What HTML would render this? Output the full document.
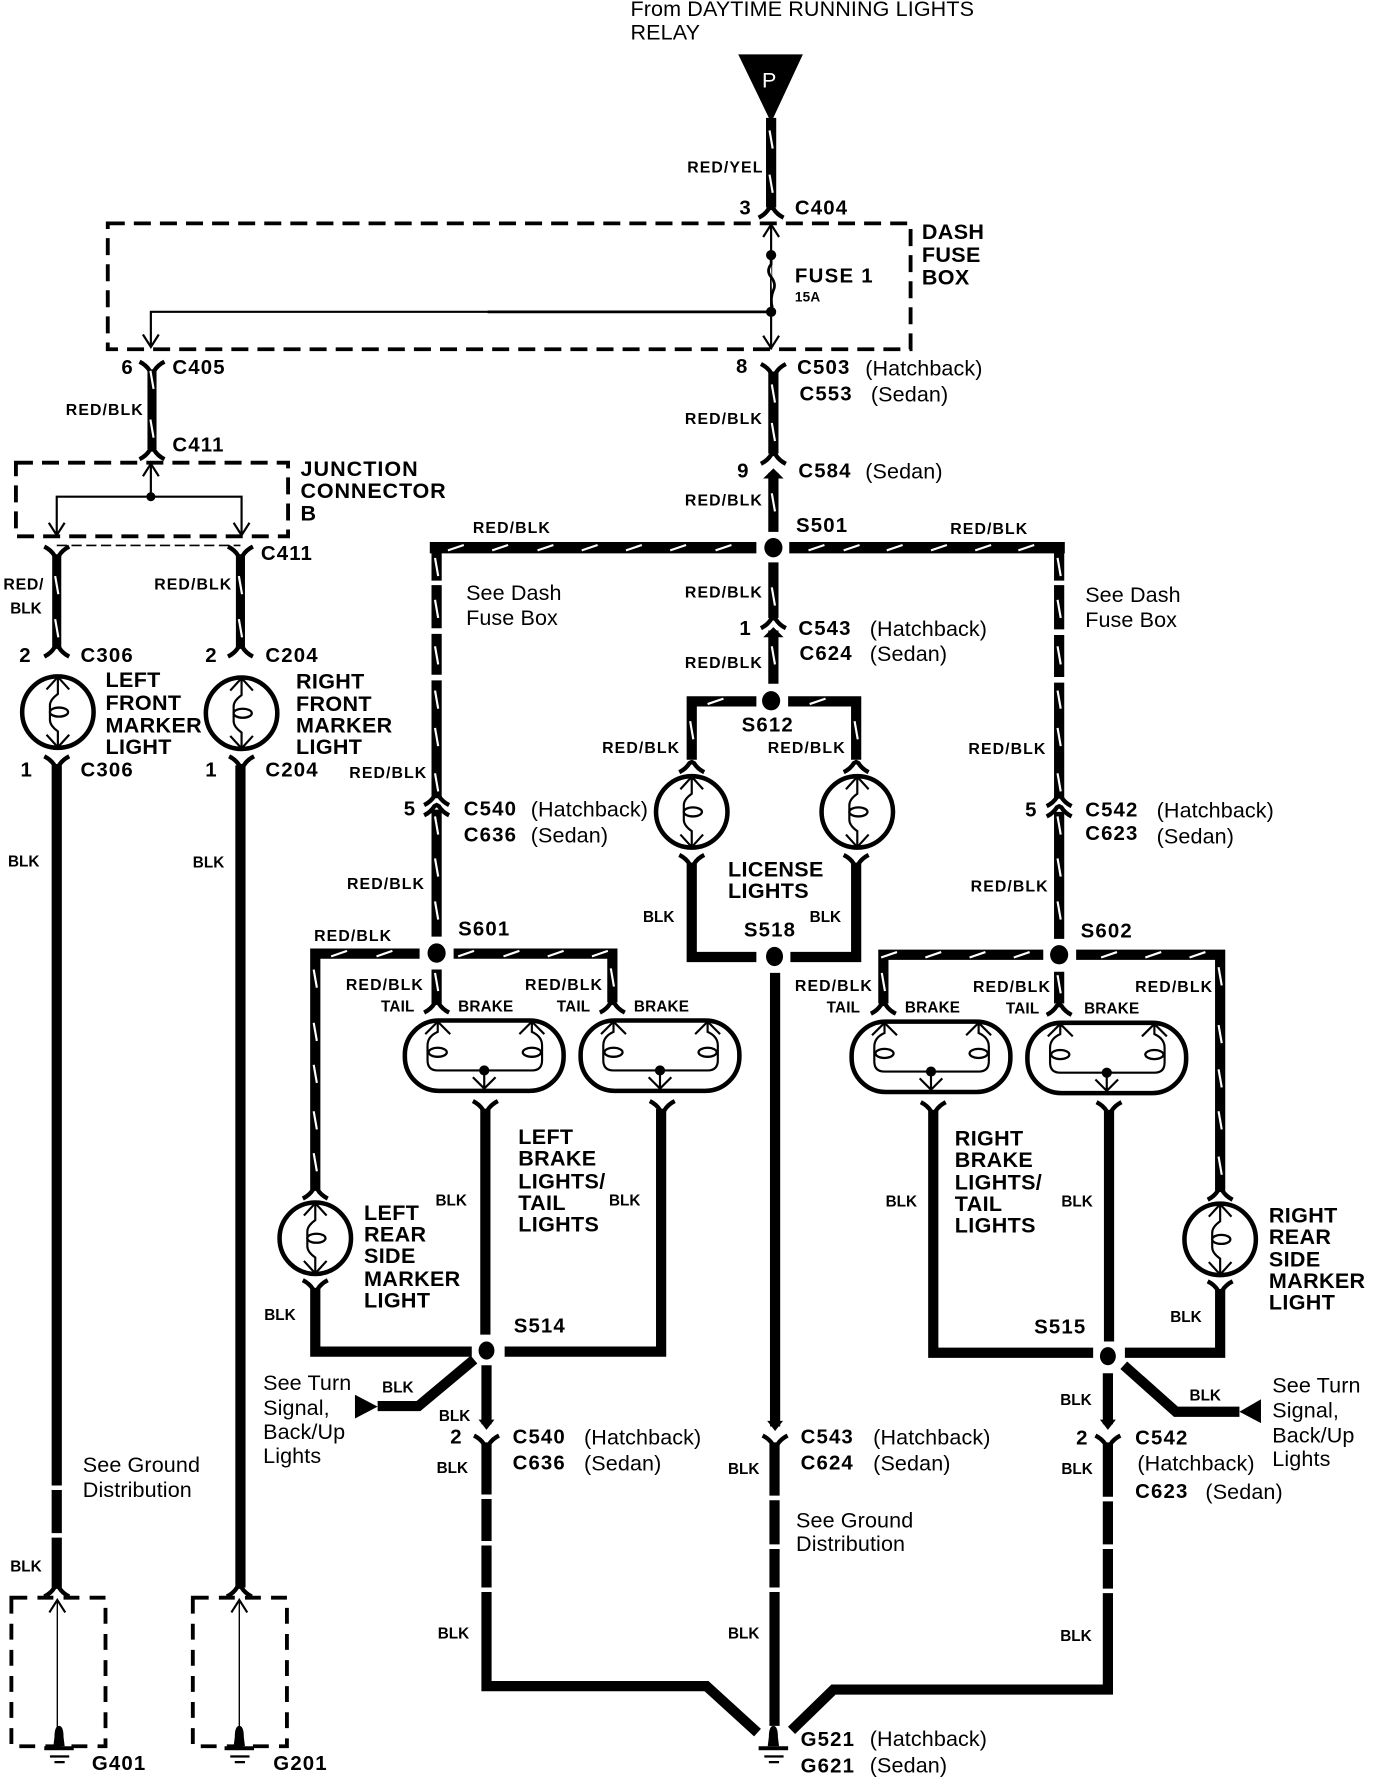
<!DOCTYPE html>
<html><head><meta charset="utf-8"><title>Wiring diagram</title>
<style>
html,body{margin:0;padding:0;background:#fff}
svg{display:block}
text{font-family:"Liberation Sans",sans-serif;fill:#000}
.w{font-weight:bold;font-size:14px;letter-spacing:.95px}
.k{font-weight:bold;font-size:13.5px}
.c{font-weight:bold;font-size:18px;letter-spacing:1px}
.t{font-weight:bold;font-size:19px;letter-spacing:.3px}
.r{font-size:19px;letter-spacing:.1px}
.s{font-weight:bold;font-size:13.5px;letter-spacing:.15px}
.wire{fill:none;stroke:#000;stroke-width:9}
.thin{fill:none;stroke:#000;stroke-width:1.9}
.d{fill:none;stroke:#fff;stroke-width:1.9}
.box{fill:none;stroke:#000;stroke-width:3.4;stroke-dasharray:15 8}
</style></head><body>
<svg xmlns="http://www.w3.org/2000/svg" width="1376" height="1778" viewBox="0 0 1213.4 1568">
<defs>
<path id="fd" d="M-11,8 Q-5,5 -2,0 L0,-1 L2,0 Q5,5 11,8" fill="none" stroke="#000" stroke-width="3.8"/>
<path id="fu" d="M-11,-8 Q-5,-5 -2,0 L0,1 L2,0 Q5,-5 11,-8" fill="none" stroke="#000" stroke-width="3.8"/>
<path id="au" d="M-7,11 L0,0 L7,11" fill="none" stroke="#000" stroke-width="1.9"/>
<path id="ad" d="M-7,-11 L0,0 L7,-11" fill="none" stroke="#000" stroke-width="1.9"/>
<polygon id="sa" points="-7,-6 7,-6 0,3"/>
<polygon id="su" points="-9,6 9,6 4,1 0,-3 -4,1"/>
<path id="dv" d="M-1.4,-8 L1.4,8" class="d"/>
<path id="dh" d="M-7,2.4 L7,-2.4" class="d"/>
<g id="b">
<ellipse cx="0" cy="0" rx="31.5" ry="31.5" fill="#fff" stroke="#000" stroke-width="4"/>
<path d="M0,-31 L0,-16 Q-7,-11 -7,-6 L-7,7 Q-7,12 0,17 L0,31" class="thin"/>
<ellipse cx="1" cy="0" rx="8" ry="4" fill="#fff" stroke="#000" stroke-width="2"/>
<path d="M-10,-20 L0,-31 L10,-20 M-10,20 L0,31 L10,20" class="thin"/>
</g>
<g id="v">
<rect x="0" y="0" width="140" height="62" rx="30" ry="30" fill="#fff" stroke="#000" stroke-width="4"/>
<path d="M29,1 L29,10 Q20,14 20,22 L20,35 Q20,44 29,44 L112,44 Q121,44 121,35 L121,22 Q121,14 112,10 L112,1" class="thin"/>
<path d="M18,12 L29,1 L40,12 M101,12 L112,1 L123,12" class="thin"/>
<ellipse cx="29" cy="28" rx="8" ry="4" fill="#fff" stroke="#000" stroke-width="2"/>
<ellipse cx="112" cy="28" rx="8" ry="4" fill="#fff" stroke="#000" stroke-width="2"/>
<circle cx="70" cy="44" r="4.5"/>
<path d="M70,44 L70,60 M60,50 L70,60 L80,50" class="thin"/>
</g>
<g id="gnd">
<path d="M-4,0 Q-4,-10 0,-10 Q4,-10 4,0 L5,8 L-5,8 Z"/>
<rect x="-13" y="8" width="26" height="3.5"/>
<rect x="-8" y="16" width="17" height="2"/>
<rect x="-4" y="21" width="9" height="2"/>
</g>
</defs>

<!-- top source -->
<polygon points="651,48 708,48 680,108"/>
<text x="672" y="77" font-size="19" style="fill:#fff">P</text>
<path d="M680,104 V183" class="wire"/>
<use href="#fd" x="680" y="184"/>
<use href="#dv" x="680" y="123"/><use href="#dv" x="680" y="162"/>

<!-- dash fuse box -->
<rect x="95" y="197" width="708" height="111" class="box"/>
<path d="M680,197 V308" class="thin"/>
<use href="#au" x="680" y="198"/><use href="#ad" x="680" y="307"/>
<circle cx="680" cy="225" r="4.5"/><circle cx="680" cy="275" r="4.5"/>
<path d="M680,229 V233 Q676,238 679,243 Q685,250 682,256 Q679,263 681,271" fill="#fff" stroke="#000" stroke-width="2.4"/>
<path d="M680,275 H133 V306" class="thin"/>
<path d="M680,275 H430" fill="none" stroke="#000" stroke-width="2.4"/>
<use href="#ad" x="133" y="306"/>

<!-- C405 to junction -->
<use href="#fu" x="134" y="327"/>
<path d="M134,326 V396" class="wire" style="stroke-width:8"/>
<use href="#fd" x="134" y="397"/>
<use href="#dv" x="134" y="335"/><use href="#dv" x="134" y="378"/>

<rect x="14" y="408" width="240" height="65" class="box"/>
<path d="M133,408 V438 M50,472 V438 H213 V472" class="thin"/>
<use href="#au" x="133" y="409"/><use href="#ad" x="50" y="472"/><use href="#ad" x="213" y="472"/>
<circle cx="133" cy="438" r="4"/>
<path d="M50,481 H212" fill="none" stroke="#000" stroke-width="1.5" stroke-dasharray="9 4"/>

<!-- left two wires -->
<use href="#fu" x="50" y="490"/><use href="#fu" x="212" y="490"/>
<path d="M50,489 V571 M212,489 V571" class="wire" style="stroke-width:8"/>
<use href="#fd" x="50" y="571"/><use href="#fd" x="212" y="571"/>
<use href="#dv" x="50" y="516"/><use href="#dv" x="50" y="554"/>
<use href="#dv" x="212" y="516"/><use href="#dv" x="212" y="554"/>
<use href="#b" x="51" y="628"/><use href="#b" x="213" y="629"/>
<use href="#fu" x="50" y="675"/><use href="#fu" x="213" y="675"/>
<path d="M50,675 V1310 M50,1314 V1352 M50,1356 V1400" class="wire"/>
<path d="M212,675 V1400" class="wire"/>
<use href="#fd" x="50" y="1400"/><use href="#fd" x="211" y="1400"/>
<rect x="10" y="1409" width="83" height="131" class="box" style="stroke-dasharray:14 9"/>
<rect x="170" y="1409" width="83" height="131" class="box" style="stroke-dasharray:14 9"/>
<path d="M50.5,1410 V1530 M211,1410 V1530" class="thin" style="stroke-width:1.2"/>
<use href="#au" x="50.5" y="1411"/><use href="#au" x="211" y="1411"/>
<use href="#gnd" x="52" y="1532"/><use href="#gnd" x="211" y="1532"/>

<!-- centre -->
<use href="#fu" x="682" y="329"/>
<path d="M682,328 V400" class="wire"/>
<use href="#fd" x="682" y="401"/>
<use href="#su" x="682" y="416"/>
<path d="M682,417 V469 M682,496 V545" class="wire"/>
<use href="#fd" x="682" y="546"/><use href="#su" x="682" y="556"/>
<path d="M682,556 V603" class="wire"/>
<use href="#dv" x="682" y="347"/><use href="#dv" x="682" y="381"/><use href="#dv" x="682" y="443"/><use href="#dv" x="682" y="526"/><use href="#dv" x="682" y="578"/>
<ellipse cx="682" cy="483" rx="8" ry="8.5"/>
<path d="M379,483 H667 M696,483 H939" class="wire" style="stroke-width:10"/>
<path d="M385,478 V512 M385,516 V554 M385,559 V595 M385,600 V704" class="wire"/>
<use href="#fd" x="385" y="702"/><use href="#fd" x="385" y="711"/>
<path d="M385,714 V826" class="wire"/>
<path d="M934,478 V512 M934,516 V555 M934,560 V597 M934,602 V704" class="wire"/>
<use href="#fd" x="934" y="703"/><use href="#fd" x="934" y="712"/>
<path d="M934,716 V828" class="wire"/>
<g>
<use href="#dh" x="402" y="483"/><use href="#dh" x="441" y="483"/><use href="#dh" x="481" y="483"/><use href="#dh" x="520" y="483"/><use href="#dh" x="559" y="483"/><use href="#dh" x="598" y="483"/><use href="#dh" x="638" y="483"/>
<use href="#dh" x="720" y="483"/><use href="#dh" x="751" y="483"/><use href="#dh" x="789" y="483"/><use href="#dh" x="828" y="483"/><use href="#dh" x="867" y="483"/><use href="#dh" x="905" y="483"/>
<use href="#dv" x="385" y="500"/><use href="#dv" x="385" y="537"/><use href="#dv" x="385" y="578"/><use href="#dv" x="385" y="617"/><use href="#dv" x="385" y="650"/><use href="#dv" x="385" y="690"/><use href="#dv" x="385" y="728"/><use href="#dv" x="385" y="765"/><use href="#dv" x="385" y="803"/>
<use href="#dv" x="934" y="500"/><use href="#dv" x="934" y="537"/><use href="#dv" x="934" y="578"/><use href="#dv" x="934" y="617"/><use href="#dv" x="934" y="650"/><use href="#dv" x="934" y="690"/><use href="#dv" x="934" y="728"/><use href="#dv" x="934" y="765"/><use href="#dv" x="934" y="803"/>
</g>

<!-- S612 license -->
<ellipse cx="680" cy="618" rx="8" ry="8.5"/>
<path d="M667,618.5 H610 V670 M695,618.5 H755 V670" class="wire"/>
<use href="#fd" x="610" y="673"/><use href="#fd" x="755" y="673"/>
<use href="#dh" x="631" y="618.5"/><use href="#dh" x="721" y="618.5"/><use href="#dv" x="610" y="644"/><use href="#dv" x="755" y="644"/>
<use href="#b" x="610" y="716"/><use href="#b" x="756" y="716"/>
<use href="#fu" x="610" y="762"/><use href="#fu" x="755" y="762"/>
<path d="M610,762 V844 H667 M755,762 V844 H697" class="wire"/>
<ellipse cx="683" cy="843.5" rx="7.5" ry="8.5"/>
<path d="M683.5,858 V1258" class="wire"/>
<use href="#sa" x="683.5" y="1259"/><use href="#fu" x="683.5" y="1274"/>
<path d="M683,1272 V1319 M683,1323 V1362 M683,1366 V1400 M683,1404 V1522" class="wire"/>

<!-- S601 -->
<ellipse cx="385" cy="840.5" rx="8" ry="8.5"/>
<path d="M370,841 H278 V1049 M400,841 H540 V884" class="wire"/>
<path d="M385,855 V885" class="wire"/>
<use href="#fd" x="385" y="885"/><use href="#fd" x="540" y="885"/><use href="#fd" x="278" y="1049"/>
<use href="#dh" x="299" y="841"/><use href="#dh" x="339" y="841"/><use href="#dh" x="411" y="841"/><use href="#dh" x="451" y="841"/><use href="#dh" x="490" y="841"/><use href="#dh" x="529" y="841"/>
<use href="#dv" x="385" y="866"/><use href="#dv" x="540" y="862"/>
<use href="#dv" x="278" y="863"/><use href="#dv" x="278" y="910"/><use href="#dv" x="278" y="947"/><use href="#dv" x="278" y="988"/><use href="#dv" x="278" y="1025"/>
<use href="#v" x="357" y="900"/><use href="#v" x="512" y="900"/>
<use href="#fu" x="428" y="979"/><use href="#fu" x="584" y="979"/>
<path d="M428,978 V1177 M429,1204 V1256" class="wire"/>
<path d="M583,978 V1192 H445" class="wire" style="stroke-width:9"/>
<use href="#b" x="278" y="1092"/>
<use href="#fu" x="278" y="1137"/>
<path d="M278,1136 V1192 H416" class="wire"/>
<ellipse cx="429" cy="1191" rx="7" ry="8"/>
<path d="M418,1199 L369,1240 H333" class="wire"/>
<polygon points="313,1230 313,1251 333,1240.5"/>
<use href="#sa" x="429" y="1258"/><use href="#fu" x="429" y="1274"/>
<path d="M429,1272 V1318 M429,1322 V1359 M429,1363 V1400 M429,1404 V1487 H623 L668,1528" class="wire"/>

<!-- S602 -->
<ellipse cx="934" cy="842" rx="8" ry="8.5"/>
<path d="M920,842 H779 V885 M949,842 H1076 V1050" class="wire"/>
<path d="M934,857 V885" class="wire"/>
<use href="#fd" x="779" y="886"/><use href="#fd" x="934" y="887"/><use href="#fd" x="1076" y="1050"/>
<use href="#dh" x="784" y="842"/><use href="#dh" x="823" y="842"/><use href="#dh" x="862" y="842"/><use href="#dh" x="901" y="842"/><use href="#dh" x="978" y="842"/><use href="#dh" x="1017" y="842"/><use href="#dh" x="1056" y="842"/>
<use href="#dv" x="779" y="866"/><use href="#dv" x="934" y="868"/>
<use href="#dv" x="1076" y="861"/><use href="#dv" x="1076" y="912"/><use href="#dv" x="1076" y="951"/><use href="#dv" x="1076" y="988"/><use href="#dv" x="1076" y="1028"/>
<use href="#v" x="751" y="901"/><use href="#v" x="906" y="902"/>
<use href="#fu" x="823" y="980"/><use href="#fu" x="978" y="980"/>
<path d="M823,979 V1193 H964 M978,979 V1183 M977,1211 V1256" class="wire"/>
<use href="#b" x="1076" y="1093"/>
<use href="#fu" x="1076" y="1138"/>
<path d="M1076,1137 V1193 H992" class="wire"/>
<ellipse cx="977" cy="1196" rx="7" ry="8"/>
<path d="M991,1204 L1037,1245 H1093" class="wire"/>
<polygon points="1112,1234 1112,1255 1093,1245"/>
<use href="#sa" x="977" y="1258"/><use href="#fu" x="977" y="1274"/>
<path d="M977,1272 V1320 M977,1324 V1362 M977,1366 V1401 M977,1405 V1490 H735 L698,1526" class="wire"/>
<use href="#gnd" x="682" y="1532"/>

<!-- text -->
<text class="r" x="556" y="14">From DAYTIME RUNNING LIGHTS</text>
<text class="r" x="556" y="35">RELAY</text>
<text class="w" x="606" y="152">RED/YEL</text>
<text class="c" x="652" y="189">3</text><text class="c" x="701" y="189">C404</text>
<text class="t" x="813" y="211">DASH</text><text class="t" x="813" y="231">FUSE</text><text class="t" x="813" y="251">BOX</text>
<text class="t" x="701" y="249" style="font-size:18px;letter-spacing:1.1px">FUSE 1</text>
<text class="s" x="701" y="266" style="font-size:12px">15A</text>
<text class="c" x="107" y="330">6</text><text class="c" x="152" y="330">C405</text>
<text class="w" x="58" y="366">RED/BLK</text>
<text class="c" x="152" y="398">C411</text>
<text class="t" x="265" y="420" style="letter-spacing:.9px">JUNCTION</text><text class="t" x="265" y="439" style="letter-spacing:.75px">CONNECTOR</text><text class="t" x="265" y="459">B</text>
<text class="c" x="230" y="494">C411</text>
<text class="w" x="3" y="520" style="letter-spacing:.6px">RED/</text><text class="k" x="9" y="541">BLK</text>
<text class="w" x="136" y="520">RED/BLK</text>
<text class="c" x="17" y="584">2</text><text class="c" x="71" y="584">C306</text>
<text class="c" x="181" y="584">2</text><text class="c" x="234" y="584">C204</text>
<text class="t" x="93" y="606">LEFT</text><text class="t" x="93" y="626">FRONT</text><text class="t" x="93" y="646">MARKER</text><text class="t" x="93" y="665">LIGHT</text>
<text class="t" x="261" y="607">RIGHT</text><text class="t" x="261" y="627">FRONT</text><text class="t" x="261" y="646">MARKER</text><text class="t" x="261" y="665">LIGHT</text>
<text class="c" x="18" y="685">1</text><text class="c" x="71" y="685">C306</text>
<text class="c" x="181" y="685">1</text><text class="c" x="234" y="685">C204</text>
<text class="k" x="7" y="764">BLK</text><text class="k" x="170" y="765">BLK</text>
<text class="r" x="73" y="1298">See Ground</text><text class="r" x="73" y="1320">Distribution</text>
<text class="k" x="9" y="1386">BLK</text>
<text class="c" x="81" y="1561">G401</text><text class="c" x="241" y="1561">G201</text>

<text class="c" x="649" y="329">8</text><text class="c" x="703" y="330">C503</text><text class="r" x="763" y="331">(Hatchback)</text>
<text class="c" x="705" y="353">C553</text><text class="r" x="768" y="354">(Sedan)</text>
<text class="w" x="604" y="374">RED/BLK</text>
<text class="c" x="650" y="421">9</text><text class="c" x="704" y="421">C584</text><text class="r" x="763" y="422">(Sedan)</text>
<text class="w" x="604" y="446">RED/BLK</text>
<text class="w" x="417" y="470">RED/BLK</text><text class="c" x="702" y="469">S501</text><text class="w" x="838" y="471">RED/BLK</text>
<text class="r" x="411" y="529">See Dash</text><text class="r" x="411" y="551">Fuse Box</text>
<text class="r" x="957" y="531">See Dash</text><text class="r" x="957" y="553">Fuse Box</text>
<text class="w" x="604" y="527">RED/BLK</text>
<text class="c" x="652" y="560">1</text><text class="c" x="704" y="560">C543</text><text class="r" x="767" y="561">(Hatchback)</text>
<text class="c" x="705" y="582">C624</text><text class="r" x="767" y="583">(Sedan)</text>
<text class="w" x="604" y="589">RED/BLK</text>
<text class="c" x="654" y="645">S612</text>
<text class="w" x="531" y="664">RED/BLK</text><text class="w" x="677" y="664">RED/BLK</text>
<text class="w" x="854" y="665">RED/BLK</text>
<text class="w" x="308" y="686">RED/BLK</text>
<text class="c" x="356" y="719">5</text><text class="c" x="409" y="719">C540</text><text class="r" x="468" y="720">(Hatchback)</text>
<text class="c" x="409" y="742">C636</text><text class="r" x="468" y="743">(Sedan)</text>
<text class="c" x="904" y="720">5</text><text class="c" x="957" y="720">C542</text><text class="r" x="1020" y="721">(Hatchback)</text>
<text class="c" x="957" y="741">C623</text><text class="r" x="1020" y="744">(Sedan)</text>
<text class="t" x="642" y="773">LICENSE</text><text class="t" x="642" y="792">LIGHTS</text>
<text class="w" x="306" y="784">RED/BLK</text><text class="w" x="856" y="786">RED/BLK</text>
<text class="k" x="567" y="813">BLK</text><text class="k" x="714" y="813">BLK</text>
<text class="c" x="404" y="825">S601</text><text class="c" x="656" y="826">S518</text><text class="c" x="953" y="827">S602</text>
<text class="w" x="277" y="830">RED/BLK</text>
<text class="w" x="305" y="873">RED/BLK</text><text class="w" x="463" y="873">RED/BLK</text>
<text class="w" x="701" y="874">RED/BLK</text><text class="w" x="858" y="875">RED/BLK</text><text class="w" x="1001" y="875">RED/BLK</text>
<text class="s" x="336" y="892">TAIL</text><text class="s" x="404" y="892">BRAKE</text><text class="s" x="491" y="892">TAIL</text><text class="s" x="559" y="892">BRAKE</text>
<text class="s" x="729" y="893">TAIL</text><text class="s" x="798" y="893">BRAKE</text><text class="s" x="887" y="894">TAIL</text><text class="s" x="956" y="894">BRAKE</text>

<text class="t" x="457" y="1009">LEFT</text><text class="t" x="457" y="1028">BRAKE</text><text class="t" x="457" y="1048">LIGHTS/</text><text class="t" x="457" y="1067">TAIL</text><text class="t" x="457" y="1086">LIGHTS</text>
<text class="t" x="842" y="1010">RIGHT</text><text class="t" x="842" y="1029">BRAKE</text><text class="t" x="842" y="1049">LIGHTS/</text><text class="t" x="842" y="1068">TAIL</text><text class="t" x="842" y="1087">LIGHTS</text>
<text class="k" x="384" y="1063">BLK</text><text class="k" x="537" y="1063">BLK</text><text class="k" x="781" y="1064">BLK</text><text class="k" x="936" y="1064">BLK</text>
<text class="t" x="321" y="1076">LEFT</text><text class="t" x="321" y="1095">REAR</text><text class="t" x="321" y="1114">SIDE</text><text class="t" x="321" y="1134">MARKER</text><text class="t" x="321" y="1153">LIGHT</text>
<text class="t" x="1119" y="1078">RIGHT</text><text class="t" x="1119" y="1097">REAR</text><text class="t" x="1119" y="1117">SIDE</text><text class="t" x="1119" y="1136">MARKER</text><text class="t" x="1119" y="1155">LIGHT</text>
<text class="k" x="233" y="1164">BLK</text><text class="k" x="1032" y="1166">BLK</text>
<text class="c" x="453" y="1175">S514</text><text class="c" x="912" y="1176">S515</text>
<text class="r" x="232" y="1226">See Turn</text><text class="r" x="232" y="1248">Signal,</text><text class="r" x="232" y="1269">Back/Up</text><text class="r" x="232" y="1290">Lights</text>
<text class="r" x="1122" y="1228">See Turn</text><text class="r" x="1122" y="1250">Signal,</text><text class="r" x="1122" y="1272">Back/Up</text><text class="r" x="1122" y="1293">Lights</text>
<text class="k" x="337" y="1228">BLK</text><text class="k" x="1049" y="1235">BLK</text><text class="k" x="387" y="1253">BLK</text><text class="k" x="935" y="1239">BLK</text>
<text class="c" x="397" y="1273">2</text><text class="c" x="452" y="1273">C540</text><text class="r" x="515" y="1274">(Hatchback)</text>
<text class="c" x="452" y="1296">C636</text><text class="r" x="515" y="1297">(Sedan)</text>
<text class="c" x="706" y="1273">C543</text><text class="r" x="770" y="1274">(Hatchback)</text>
<text class="c" x="706" y="1296">C624</text><text class="r" x="770" y="1297">(Sedan)</text>
<text class="c" x="949" y="1274">2</text><text class="c" x="1001" y="1274">C542</text><text class="r" x="1003" y="1297">(Hatchback)</text>
<text class="c" x="1001" y="1321">C623</text><text class="r" x="1063" y="1322">(Sedan)</text>
<text class="k" x="385" y="1299">BLK</text><text class="k" x="642" y="1300">BLK</text><text class="k" x="936" y="1300">BLK</text>
<text class="r" x="702" y="1347">See Ground</text><text class="r" x="702" y="1368">Distribution</text>
<text class="k" x="386" y="1445">BLK</text><text class="k" x="642" y="1445">BLK</text><text class="k" x="935" y="1447">BLK</text>
<text class="c" x="706" y="1540">G521</text><text class="r" x="767" y="1540">(Hatchback)</text>
<text class="c" x="706" y="1563">G621</text><text class="r" x="767" y="1563">(Sedan)</text>
</svg>
</body></html>
